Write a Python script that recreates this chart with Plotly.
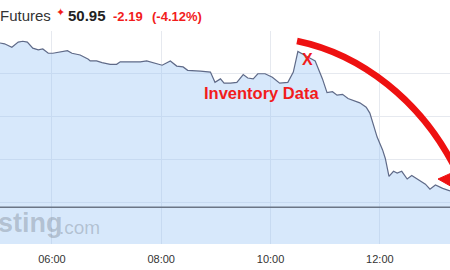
import plotly.graph_objects as go

day = "2017-05-24 "
times = ["05:03","05:08","05:16","05:23","05:28","05:33","05:39","05:45","05:50","05:56",
         "06:01","06:12","06:17","06:22","06:31","06:40","06:42","06:49","06:55","07:04",
         "07:11","07:15","07:29","07:37","07:44","07:51","08:01","08:10","08:17","08:24",
         "08:29","08:43","08:54","08:59","09:05","09:09","09:16","09:23","09:30","09:35",
         "09:41","09:46","09:54","10:02","10:10","10:19","10:25","10:30","10:36","10:42",
         "10:49","10:57","11:02","11:08","11:13","11:19","11:25","11:31","11:38","11:45",
         "11:49","11:57","12:03","12:06","12:10","12:15","12:19","12:24","12:30","12:35",
         "12:42","12:50","12:55","13:01","13:09","13:17"]
prices = [52.66,52.65,52.61,52.67,52.68,52.67,52.60,52.58,52.59,52.54,
          52.54,52.56,52.57,52.54,52.52,52.47,52.45,52.45,52.43,52.41,
          52.41,52.44,52.44,52.44,52.45,52.43,52.40,52.45,52.39,52.38,
          52.34,52.33,52.32,52.20,52.24,52.19,52.19,52.20,52.29,52.25,
          52.24,52.30,52.30,52.26,52.19,52.20,52.32,52.56,52.52,52.49,
          52.45,52.24,52.08,52.09,52.05,52.06,52.01,51.99,51.96,51.91,
          51.84,51.56,51.41,51.31,51.10,51.16,51.14,51.16,51.07,51.11,
          51.06,51.01,50.95,51.00,50.96,50.93]
ref_level = 50.74
x_range = ["05:03", "13:17"]
y_range = [50.31, 52.80]
grid_levels = [50.8, 51.3, 51.8, 52.3, 52.8]
tick_times = ["06:00", "08:00", "10:00", "12:00"]

header_name = "Futures"
last_price = "50.95"
change = "-2.19"
change_pct = "(-4.12%)"
note_text = "Inventory Data"

RED = "#f21c1c"
FONT = "Liberation Sans, Arial, sans-serif"

fig = go.Figure()
fig.add_trace(go.Scatter(
    x=[day + t for t in times], y=prices, mode="lines",
    line=dict(color="#5f6a88", width=1.2),
    fill="tozeroy", fillcolor="rgba(150,195,245,0.38)",
    hoverinfo="skip", showlegend=False))

fig.add_shape(type="line", xref="paper", x0=0, x1=1, yref="y", y0=ref_level, y1=ref_level,
              line=dict(color="#6b7585", width=1.5))

# page-relative helpers (plot area: top 31, bottom 244 px)
def px(x):
    return x / 450
def py(y):
    return (244 - y) / 213

# curved red arrow
arc = "M {},{} C {},{} {},{} {},{}".format(px(297), py(41), px(360), py(54), px(422), py(100), px(457), py(172))
fig.add_shape(type="path", xref="paper", yref="paper", path=arc,
              line=dict(color="#ee1111", width=6.5))
head = "M {},{} L {},{} L {},{} Z".format(px(438), py(179), px(476), py(162), px(468), py(196))
fig.add_shape(type="path", xref="paper", yref="paper", path=head,
              fillcolor="#ee1111", line=dict(color="#ee1111", width=1))

def add(text, x, y, size, color, bold=False, xanchor="left"):
    fig.add_annotation(text=("<b>%s</b>" % text) if bold else text, xref="paper", yref="paper",
                       x=px(x), y=py(y), xanchor=xanchor, yanchor="middle", showarrow=False,
                       font=dict(family=FONT, size=size, color=color), borderpad=0)

add(header_name, -1, 15, 15, "#333333")
add("✦", 55, 12, 11, RED)
add(last_price, 67, 15, 15, "#222222", bold=True)
add(change, 112, 16, 13, RED, bold=True)
add(change_pct, 151, 16, 13, RED, bold=True)
add(note_text, 203, 93, 16.5, RED, bold=True)
add("X", 307, 59, 16, RED, bold=True, xanchor="center")
add("sting", -3, 223, 27, "rgba(100,110,120,0.33)", bold=True)
add(".com", 58, 227, 19, "rgba(100,110,120,0.33)")

fig.update_layout(
    width=450, height=270,
    margin=dict(l=0, r=0, t=31, b=26),
    paper_bgcolor="white", plot_bgcolor="white",
    font=dict(family=FONT),
    xaxis=dict(range=[day + x_range[0], day + x_range[1]],
               tickvals=[day + t for t in tick_times], ticktext=tick_times,
               showgrid=True, gridcolor="#e6e9ef", gridwidth=1,
               zeroline=False, showline=False, ticks="",
               tickfont=dict(size=11, color="#333333"), ticklabelstandoff=7),
    yaxis=dict(range=y_range, tickvals=grid_levels, showticklabels=False,
               showgrid=True, gridcolor="#e6e9ef", gridwidth=1,
               zeroline=False, showline=False, ticks=""),
)

fig.write_html("out.html")
